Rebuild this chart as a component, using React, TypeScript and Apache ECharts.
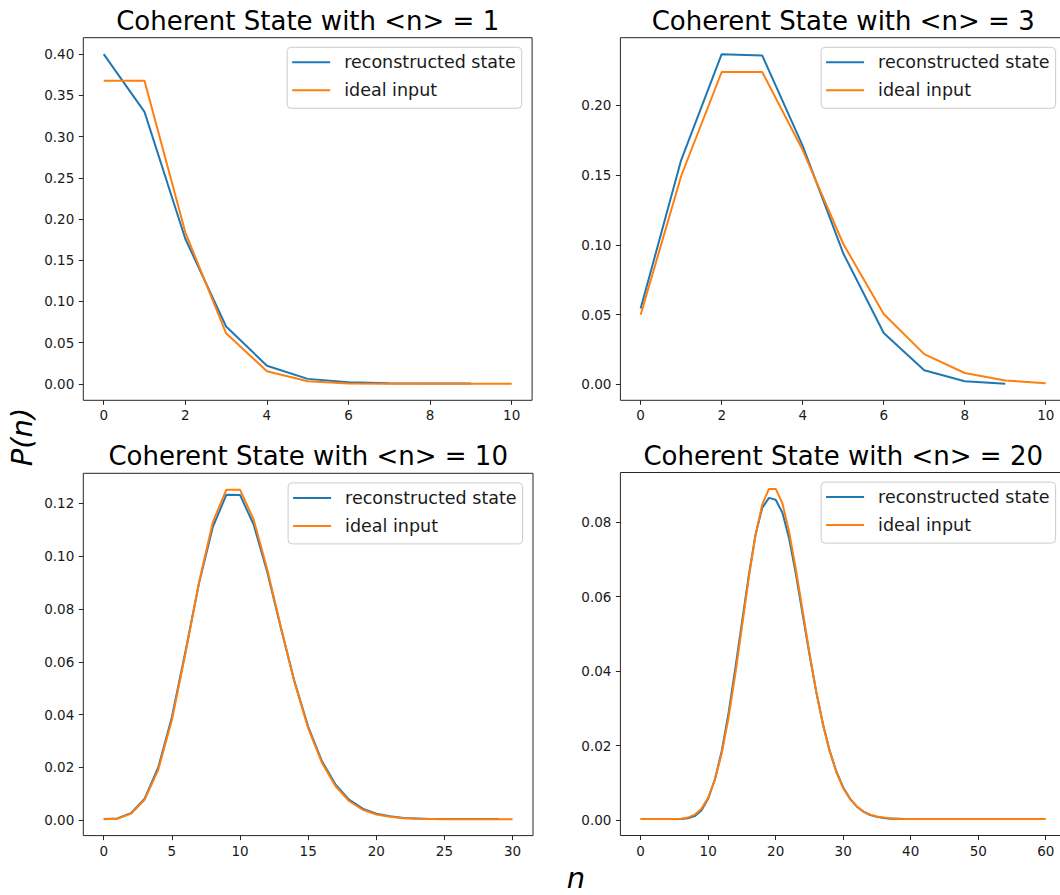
import React, { useEffect, useRef } from "react";
import * as echarts from "echarts";

// ---------- data ----------
const SERIES_NAMES = ["reconstructed state", "ideal input"];
const TITLES = [
  "Coherent State with <n> = 1",
  "Coherent State with <n> = 3",
  "Coherent State with <n> = 10",
  "Coherent State with <n> = 20",
];

// <n> = 1 (n = 0..9 / 0..10)
const recon1 = [0.4, 0.33, 0.176, 0.0695, 0.022, 0.006, 0.0018, 0.0008, 0.0005, 0.0004];
const ideal1 = [0.3679, 0.3679, 0.1839, 0.0613, 0.0153, 0.0031, 0.0005, 0.0001, 0.0, 0.0, 0.0];

// <n> = 3
const recon3 = [0.0543, 0.1608, 0.2368, 0.2359, 0.171, 0.094, 0.0368, 0.01, 0.0022, 0.0004];
const ideal3 = [0.0498, 0.1494, 0.224, 0.224, 0.168, 0.1008, 0.0504, 0.0216, 0.0081, 0.0027, 0.0008];

// <n> = 10 (n = 0..29 / 0..30)
const recon10 = [
  0.0005, 0.0007, 0.0027, 0.0082, 0.02, 0.039, 0.064, 0.09, 0.111, 0.1233,
  0.1232, 0.112, 0.094, 0.0728, 0.0525, 0.0355, 0.0225, 0.0136, 0.0078, 0.0044,
  0.0025, 0.0015, 0.0009, 0.0007, 0.0005, 0.0005, 0.0005, 0.0005, 0.0005, 0.0005,
];
const ideal10 = [
  0.0004, 0.0006, 0.0025, 0.0078, 0.0191, 0.038, 0.0633, 0.0903, 0.1128, 0.1252,
  0.1252, 0.1139, 0.095, 0.0731, 0.0523, 0.0349, 0.0219, 0.013, 0.0073, 0.004,
  0.0022, 0.0013, 0.0008, 0.0006, 0.0005, 0.0004, 0.0004, 0.0004, 0.0004, 0.0004,
  0.0004,
];

// <n> = 20 (n = 0..59 / 0..60)
const recon20 = [
  0.0003, 0.0003, 0.0003, 0.0003, 0.0003, 0.0003, 0.0003, 0.0005, 0.0011, 0.0026,
  0.0058, 0.011, 0.0185, 0.0285, 0.0405, 0.053, 0.0655, 0.0765, 0.0838, 0.0865,
  0.086, 0.0825, 0.0755, 0.066, 0.0552, 0.0445, 0.0345, 0.0258, 0.0186, 0.013,
  0.0088, 0.0058, 0.0037, 0.0023, 0.0014, 0.0009, 0.0006, 0.0004, 0.0004, 0.0003,
  0.0003, 0.0003, 0.0003, 0.0003, 0.0003, 0.0003, 0.0003, 0.0003, 0.0003, 0.0003,
  0.0003, 0.0003, 0.0003, 0.0003, 0.0003, 0.0003, 0.0003, 0.0003, 0.0003, 0.0003,
];
const ideal20 = [
  0.0003, 0.0003, 0.0003, 0.0003, 0.0003, 0.0003, 0.0004, 0.0007, 0.0015, 0.0031,
  0.0061, 0.0109, 0.0179, 0.0274, 0.039, 0.0519, 0.0649, 0.0763, 0.0847, 0.0889,
  0.0889, 0.085, 0.0773, 0.0672, 0.0561, 0.0449, 0.0346, 0.0257, 0.0185, 0.0128,
  0.0086, 0.0057, 0.0037, 0.0023, 0.0015, 0.001, 0.0007, 0.0005, 0.0004, 0.0003,
  0.0003, 0.0003, 0.0003, 0.0003, 0.0003, 0.0003, 0.0003, 0.0003, 0.0003, 0.0003,
  0.0003, 0.0003, 0.0003, 0.0003, 0.0003, 0.0003, 0.0003, 0.0003, 0.0003, 0.0003,
  0.0003,
];

const xTicks1 = [0, 2, 4, 6, 8, 10];
const xTicks3 = [0, 2, 4, 6, 8, 10];
const xTicks10 = [0, 5, 10, 15, 20, 25, 30];
const xTicks20 = [0, 10, 20, 30, 40, 50, 60];
const yTicks1 = [0, 0.05, 0.1, 0.15, 0.2, 0.25, 0.3, 0.35, 0.4];
const yTicks3 = [0, 0.05, 0.1, 0.15, 0.2];
const yTicks10 = [0, 0.02, 0.04, 0.06, 0.08, 0.1, 0.12];
const yTicks20 = [0, 0.02, 0.04, 0.06, 0.08];

const RECON = [recon1, recon3, recon10, recon20];
const IDEAL = [ideal1, ideal3, ideal10, ideal20];
const XTICKS = [xTicks1, xTicks3, xTicks10, xTicks20];
const YTICKS = [yTicks1, yTicks3, yTicks10, yTicks20];
const XRANGE = [
  [-0.5, 10.5],
  [-0.5, 10.5],
  [-1.5, 31.5],
  [-3, 63],
];
const YRANGE = [
  [-0.02, 0.42],
  [-0.0115, 0.2486],
  [-0.0058, 0.1314],
  [-0.0041, 0.0933],
];

// ---------- layout ----------
const GRIDS = [
  { left: 83.3, top: 37.7, width: 448.8, height: 362.6 },
  { left: 620.4, top: 37.7, width: 445.6, height: 362.6 },
  { left: 83.3, top: 473.3, width: 449.7, height: 362.3 },
  { left: 620.4, top: 472.5, width: 445.6, height: 363 },
];

const BLUE = "#1f77b4";
const ORANGE = "#ff7f0e";
const FONT = "DejaVu Sans";
const TEXT = "#1a1a1a";

export default function App() {
  const ref = useRef<HTMLDivElement>(null);

  useEffect(() => {
    if (!ref.current) return;
    const chart = echarts.init(ref.current, null, { renderer: "svg" });

    const grid: any[] = [];
    const xAxis: any[] = [];
    const yAxis: any[] = [];
    const series: any[] = [];
    const title: any[] = [];
    const legend: any[] = [];

    GRIDS.forEach((g, i) => {
      grid.push({
        ...g,
        show: true,
        borderColor: "#262626",
        borderWidth: 1,
        backgroundColor: "transparent",
        containLabel: false,
        outerBoundsMode: "none",
      });
      xAxis.push({
        type: "value",
        gridIndex: i,
        position: "bottom",
        min: XRANGE[i][0],
        max: XRANGE[i][1],
        splitLine: { show: false },
        axisLine: { show: false, onZero: false },
        axisTick: {
          show: true,
          customValues: XTICKS[i],
          length: 4.5,
          lineStyle: { color: "#262626", width: 1 },
        },
        axisLabel: {
          customValues: XTICKS[i],
          fontSize: 13.5,
          fontFamily: FONT,
          color: TEXT,
          margin: 8,
          formatter: (v: number) => String(v),
        },
      });
      yAxis.push({
        type: "value",
        gridIndex: i,
        position: "left",
        min: YRANGE[i][0],
        max: YRANGE[i][1],
        splitLine: { show: false },
        axisLine: { show: false, onZero: false },
        axisTick: {
          show: true,
          customValues: YTICKS[i],
          length: 4.5,
          lineStyle: { color: "#262626", width: 1 },
        },
        axisLabel: {
          customValues: YTICKS[i],
          fontSize: 13.5,
          fontFamily: FONT,
          color: TEXT,
          margin: 9,
          formatter: (v: number) => v.toFixed(2),
        },
      });
      series.push({
        type: "line",
        name: SERIES_NAMES[0],
        xAxisIndex: i,
        yAxisIndex: i,
        data: RECON[i].map((v, n) => [n, v]),
        showSymbol: false,
        symbol: "none",
        color: BLUE,
        lineStyle: { color: BLUE, width: 2 },
        z: 2,
      });
      series.push({
        type: "line",
        name: SERIES_NAMES[1],
        xAxisIndex: i,
        yAxisIndex: i,
        data: IDEAL[i].map((v, n) => [n, v]),
        showSymbol: false,
        symbol: "none",
        color: ORANGE,
        lineStyle: { color: ORANGE, width: 2 },
        z: 3,
      });
      title.push({
        text: TITLES[i],
        left: g.left + g.width / 2,
        top: g.top - 30,
        textAlign: "center",
        padding: 0,
        textStyle: {
          fontSize: 26,
          fontWeight: "normal",
          fontFamily: FONT,
          color: "#000",
        },
      });
      legend.push({
        data: SERIES_NAMES,
        orient: "vertical",
        right: 1060 - (g.left + g.width - 10.4),
        top: g.top + 9.6,
        icon: "rect",
        itemWidth: 38,
        itemHeight: 2,
        itemGap: 8,
        selectedMode: false,
        padding: [5, 6, 8, 5],
        borderColor: "#cccccc",
        borderWidth: 1,
        borderRadius: 4,
        backgroundColor: "rgba(255,255,255,0.8)",
        textStyle: {
          fontSize: 17.5,
          fontFamily: FONT,
          color: TEXT,
          lineHeight: 20,
          padding: [0, 0, 0, 9],
        },
      });
    });

    chart.setOption({
      animation: false,
      backgroundColor: "#ffffff",
      title,
      legend,
      grid,
      xAxis,
      yAxis,
      series,
      graphic: [
        {
          type: "text",
          x: 22,
          y: 437,
          rotation: Math.PI / 2,
          style: {
            text: "P(n)",
            fontSize: 29,
            fontStyle: "italic",
            fontFamily: FONT,
            fill: "#000",
            textAlign: "center",
            textVerticalAlign: "middle",
          },
        },
        {
          type: "text",
          x: 576,
          y: 878,
          style: {
            text: "n",
            fontSize: 29,
            fontStyle: "italic",
            fontFamily: FONT,
            fill: "#000",
            textAlign: "center",
            textVerticalAlign: "middle",
          },
        },
      ],
    });

    return () => chart.dispose();
  }, []);

  return (
    <div
      ref={ref}
      style={{
        position: "absolute",
        left: 0,
        top: 0,
        width: 1060,
        height: 895,
        background: "#fff",
      }}
    />
  );
}
